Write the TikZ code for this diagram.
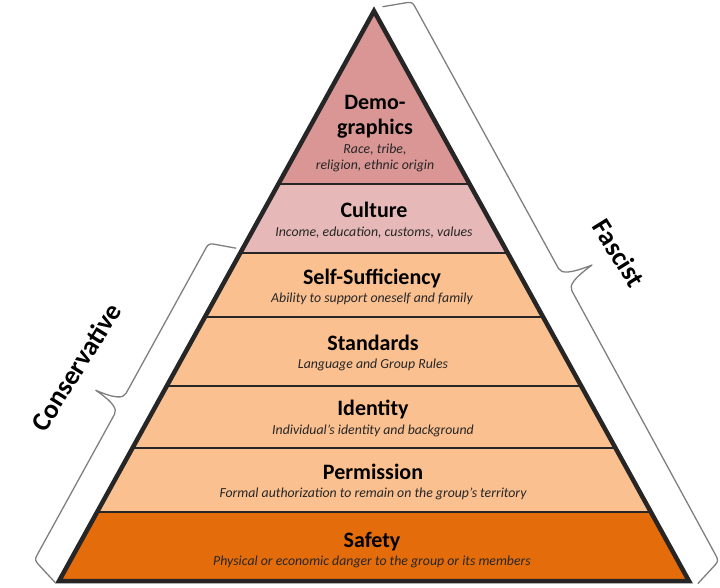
\documentclass[tikz,border=0pt]{standalone}
\usepackage{fontspec}
\setmainfont{Carlito}
\definecolor{demo}{HTML}{D99694}
\definecolor{cult}{HTML}{E6B9B8}
\definecolor{midband}{HTML}{FAC090}
\definecolor{safe}{HTML}{E46C0A}
\definecolor{edge}{HTML}{262626}
\definecolor{bracecol}{HTML}{7F7F7F}
\tikzset{
  title/.style={font=\bfseries\fontsize{22}{24}\selectfont, text=black, inner sep=0pt, anchor=base},
  sub/.style={font=\itshape\fontsize{13.8}{15}\selectfont, text=edge, inner sep=0pt, anchor=base},
  sidelabel/.style={font=\bfseries\fontsize{27}{30}\selectfont, text=black, inner sep=0pt},
  bracepath/.style={draw=bracecol, line width=1.3pt, line join=round, line cap=round},
  sepline/.style={draw=edge, line width=2.5pt},
  outline/.style={draw=edge, line width=4.5pt, line join=miter}
}
\begin{document}
\begin{tikzpicture}[x=1pt,y=-1pt]
\useasboundingbox (0,0) rectangle (720,587);
\coordinate (apex) at (374,11);
\coordinate (bl) at (59,581);
\coordinate (br) at (689,581);
\begin{scope}
  \clip (apex) -- (bl) -- (br) -- cycle;
  \fill[demo] (0,0) rectangle (720,184);
  \fill[cult] (0,184) rectangle (720,253);
  \fill[midband] (0,253) rectangle (720,512);
  \fill[safe] (0,512) rectangle (720,590);
  \foreach \yy in {184,253,317,386,448,512} \draw[sepline] (0,\yy) -- (720,\yy);
\end{scope}
\draw[outline] (apex) -- (bl) -- (br) -- cycle;

% texts
\node[title] (t1a) at (375,109) {Demo-};
\node[title] (t1b) at (375,134) {graphics};
\node[sub] (s1a) at (375,153) {Race, tribe,};
\node[sub] (s1b) at (375,169) {religion, ethnic origin};
\node[title] (t2) at (374,217) {Culture};
\node[sub] (s2) at (374,236) {Income, education, customs, values};
\node[title] (t3) at (372,284) {Self-Sufficiency};
\node[sub] (s3) at (372,302) {Ability to support oneself and family};
\node[title] (t4) at (373,350) {Standards};
\node[sub] (s4) at (373,368) {Language and Group Rules};
\node[title] (t5) at (373,415) {Identity};
\node[sub] (s5) at (373,434) {Individual’s identity and background};
\node[title] (t6) at (373,479) {Permission};
\node[sub] (s6) at (373,497) {Formal authorization to remain on the group’s territory};
\node[title] (t7) at (372,547) {Safety};
\node[sub] (s7) at (372,565) {Physical or economic danger to the group or its members};

% Fascist brace (right side)
\begin{scope}[shift={(374pt,-7pt)}, x={(0.481pt,-0.877pt)}, y={(0.877pt,0.481pt)}]
  \draw[bracepath] (4,8) -- (12,31) .. controls (13.5,35) and (15,36) .. (19,36)
    -- (318,36) .. controls (324,36) and (328,44) .. (331,67)
    .. controls (334,44) and (338,37) .. (344,37)
    -- (645,36) .. controls (650,36) and (651.5,35) .. (653,31) -- (661,7);
\end{scope}
% Conservative brace (left side)
\begin{scope}[shift={(374pt,-7pt)}, x={(-0.482pt,-0.876pt)}, y={(-0.876pt,0.482pt)}]
  \draw[bracepath] (278,5) -- (285,26) .. controls (286.5,30) and (288,31) .. (292,31)
    -- (458,31) .. controls (464,31) and (468,38) .. (470,59)
    .. controls (472,38) and (476,31) .. (482,31)
    -- (643,31) .. controls (647,31) and (648.5,30) .. (650,26) -- (658,2);
\end{scope}

\node[sidelabel, rotate=58] (cons) at (76,367) {Conservative};
\node[sidelabel, rotate=-58] (fasc) at (619,253) {Fascist};
\end{tikzpicture}
\end{document}
